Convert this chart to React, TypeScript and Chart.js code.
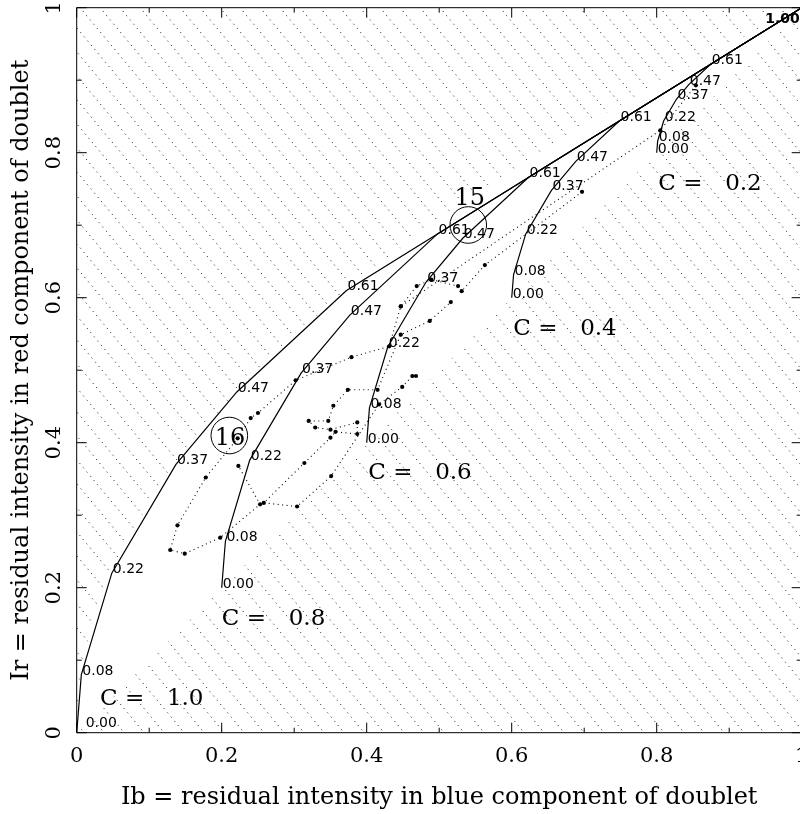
import React, { useEffect, useRef } from 'react';
import { Chart, registerables } from 'chart.js';

Chart.register(...registerables);

// ---- tau labels (residual intensity e^-tau) along each model curve ----
const R_LABELS = ['0.00', '0.08', '0.22', '0.37', '0.47', '0.61', '1.00'];

// ---- model curves for covering factor C (Ib, Ir) ----
const COVERINGS = ['0.2', '0.4', '0.6', '0.8', '1.0'];
const C02_IB = [0.8, 0.8013, 0.8097, 0.8274, 0.8442, 0.8744, 1.0];
const C02_IR = [0.8, 0.816, 0.844, 0.874, 0.894, 0.922, 1.0];
const C04_IB = [0.6, 0.6026, 0.6194, 0.6548, 0.6884, 0.7488, 1.0];
const C04_IR = [0.6, 0.632, 0.688, 0.748, 0.788, 0.844, 1.0];
const C06_IB = [0.4, 0.4038, 0.429, 0.4821, 0.5325, 0.6233, 1.0];
const C06_IR = [0.4, 0.448, 0.532, 0.622, 0.682, 0.766, 1.0];
const C08_IB = [0.2, 0.2051, 0.2387, 0.3095, 0.3767, 0.4977, 1.0];
const C08_IR = [0.2, 0.264, 0.376, 0.496, 0.576, 0.688, 1.0];
const C10_IB = [0, 0.0064, 0.0484, 0.1369, 0.2209, 0.3721, 1.0];
const C10_IR = [0, 0.08, 0.22, 0.37, 0.47, 0.61, 1.0];

// anchor (Ib, Ir) of the "C = x" annotations
const CLABEL_IB = [0.802, 0.602, 0.402, 0.2, 0.032];
const CLABEL_IR = [0.749, 0.549, 0.35, 0.149, 0.038];

// ---- observed points ----
const OBS_A_IB = [0.854, 0.805, 0.447, 0.431, 0.379, 0.302, 0.25, 0.24, 0.222, 0.178, 0.139, 0.129, 0.149, 0.198, 0.253, 0.223];
const OBS_A_IR = [0.893, 0.831, 0.588, 0.533, 0.518, 0.486, 0.441, 0.434, 0.406, 0.352, 0.286, 0.252, 0.247, 0.269, 0.315, 0.368];
const OBS_B_IB = [0.468, 0.463, 0.449, 0.417, 0.351, 0.304, 0.258, 0.314, 0.35, 0.357, 0.387, 0.387, 0.35, 0.329, 0.32, 0.347, 0.354, 0.374, 0.415, 0.447, 0.487, 0.516];
const OBS_B_IR = [0.492, 0.492, 0.477, 0.453, 0.354, 0.312, 0.317, 0.372, 0.407, 0.415, 0.412, 0.428, 0.418, 0.421, 0.43, 0.43, 0.451, 0.473, 0.473, 0.549, 0.568, 0.594];
const OBS_C_IB = [0.697, 0.563, 0.531, 0.526, 0.489, 0.469, 0.447];
const OBS_C_IR = [0.746, 0.645, 0.609, 0.616, 0.625, 0.616, 0.588];

// ---- circled components ----
const COMP_NAMES = ['15', '16'];
const COMP_IB = [0.5401, 0.2105];
const COMP_IR = [0.7003, 0.4099];

const X_TITLE = 'Ib = residual intensity in blue component of doublet';
const Y_TITLE = 'Ir = residual intensity in red component of doublet';

const zip = (xs: number[], ys: number[]) => xs.map((v, i) => ({ x: v, y: ys[i] }));

const fmtTick = (value: any) => {
  const t = Math.round(Number(value) * 10);
  return t % 2 === 0 ? String(t / 10) : '';
};

const SERIF = '"DejaVu Serif"';

const hatchPlugin = {
  id: 'hatch',
  beforeDatasetsDraw(chart: any) {
    const { ctx, chartArea: a, scales } = chart;
    const xs = scales.x;
    const ys = scales.y;
    ctx.save();
    ctx.beginPath();
    ctx.rect(a.left, a.top, a.right - a.left, a.bottom - a.top);
    ctx.clip();
    ctx.beginPath();
    // forbidden region Ir > sqrt(Ib)
    ctx.moveTo(xs.getPixelForValue(0), ys.getPixelForValue(1));
    for (let i = 0; i <= 300; i++) {
      const v = i / 300;
      ctx.lineTo(xs.getPixelForValue(v), ys.getPixelForValue(Math.sqrt(v)));
    }
    ctx.closePath();
    // forbidden region Ir < Ib
    ctx.moveTo(xs.getPixelForValue(0), ys.getPixelForValue(0));
    ctx.lineTo(xs.getPixelForValue(1), ys.getPixelForValue(1));
    ctx.lineTo(xs.getPixelForValue(1), ys.getPixelForValue(0));
    ctx.closePath();
    ctx.clip();
    ctx.strokeStyle = '#111';
    ctx.lineWidth = 1;
    ctx.setLineDash([1, 4.5]);
    const slope = 1.2;
    const step = 20;
    const H = a.bottom - a.top + 20;
    ctx.beginPath();
    for (let x0 = a.left - H / slope - step; x0 < a.right + step; x0 += step) {
      ctx.moveTo(x0, a.top - 5);
      ctx.lineTo(x0 + H / slope, a.top - 5 + H);
    }
    ctx.stroke();
    ctx.restore();
  },
};

const overlayPlugin = {
  id: 'overlay',
  afterDatasetsDraw(chart: any) {
    const { ctx, chartArea: a, scales } = chart;
    const xs = scales.x;
    const ys = scales.y;
    ctx.save();
    ctx.fillStyle = '#000';
    ctx.strokeStyle = '#000';

    // tau labels on the curves
    ctx.font = '14px "DejaVu Sans"';
    ctx.textAlign = 'left';
    ctx.textBaseline = 'alphabetic';
    for (let d = 0; d < COVERINGS.length; d++) {
      const meta = chart.getDatasetMeta(d);
      for (let j = 0; j < R_LABELS.length - 1; j++) {
        const el = meta.data[j];
        let lx = el.x + 1;
        let ly = el.y;
        if (Math.abs(el.x - a.left) < 1 && Math.abs(el.y - a.bottom) < 1) {
          lx += 8;
          ly -= 6;
        }
        ctx.fillText(R_LABELS[j], lx, ly);
      }
    }
    {
      const el = chart.getDatasetMeta(0).data[R_LABELS.length - 1];
      ctx.font = 'bold 14px "DejaVu Sans"';
      ctx.textAlign = 'right';
      ctx.fillText(R_LABELS[R_LABELS.length - 1], el.x - 2, el.y + 15);
    }

    // C = x annotations
    ctx.font = `23px ${SERIF}`;
    ctx.textAlign = 'left';
    for (let i = 0; i < COVERINGS.length; i++) {
      const px = xs.getPixelForValue(CLABEL_IB[i]);
      const py = ys.getPixelForValue(CLABEL_IR[i]);
      ctx.fillText('C', px, py);
      ctx.fillText('=', px + 25, py);
      ctx.fillText(COVERINGS[i], px + 67, py);
    }

    // circled components
    ctx.lineWidth = 1;
    ctx.setLineDash([]);
    const R = 18.3;
    ctx.font = `24px ${SERIF}`;
    ctx.textAlign = 'center';
    for (let i = 0; i < COMP_NAMES.length; i++) {
      const cx = xs.getPixelForValue(COMP_IB[i]);
      const cy = ys.getPixelForValue(COMP_IR[i]);
      ctx.beginPath();
      ctx.arc(cx, cy, R, 0, Math.PI * 2);
      ctx.stroke();
      if (i === 0) ctx.fillText(COMP_NAMES[i], cx + 1.5, cy - R - 1.7);
      else ctx.fillText(COMP_NAMES[i], cx + 0.7, cy + 9);
    }

    // frame and inward ticks
    ctx.beginPath();
    for (const t of xs.ticks) {
      const p = xs.getPixelForValue(t.value);
      const L = Math.round(t.value * 10) % 2 === 0 ? 10 : 5;
      ctx.moveTo(p, a.bottom);
      ctx.lineTo(p, a.bottom - L);
      ctx.moveTo(p, a.top);
      ctx.lineTo(p, a.top + L);
    }
    for (const t of ys.ticks) {
      const p = ys.getPixelForValue(t.value);
      const L = Math.round(t.value * 10) % 2 === 0 ? 10 : 5;
      ctx.moveTo(a.left, p);
      ctx.lineTo(a.left + L, p);
      ctx.moveTo(a.right, p);
      ctx.lineTo(a.right - L, p);
    }
    ctx.rect(a.left, a.top, a.right - a.left, a.bottom - a.top);
    ctx.stroke();
    ctx.restore();
  },
};

export default function App() {
  const ref = useRef<HTMLCanvasElement | null>(null);

  useEffect(() => {
    if (!ref.current) return;
    const curve = (xs: number[], ys: number[], label: string) => ({
      label,
      data: zip(xs, ys),
      showLine: true,
      borderColor: '#000',
      borderWidth: 1.2,
      pointRadius: 0,
      pointHoverRadius: 0,
      tension: 0,
    });
    const obs = (xs: number[], ys: number[], label: string) => ({
      label,
      data: zip(xs, ys),
      showLine: true,
      borderColor: '#000',
      borderWidth: 1.1,
      borderDash: [1, 3.5],
      pointRadius: 2.1,
      pointHoverRadius: 2.1,
      pointBackgroundColor: '#000',
      pointBorderWidth: 0,
      tension: 0,
    });
    const chart = new Chart(ref.current, {
      type: 'scatter',
      data: {
        datasets: [
          curve(C02_IB, C02_IR, 'C = 0.2'),
          curve(C04_IB, C04_IR, 'C = 0.4'),
          curve(C06_IB, C06_IR, 'C = 0.6'),
          curve(C08_IB, C08_IR, 'C = 0.8'),
          curve(C10_IB, C10_IR, 'C = 1.0'),
          obs(OBS_A_IB, OBS_A_IR, 'obs A'),
          obs(OBS_B_IB, OBS_B_IR, 'obs B'),
          obs(OBS_C_IB, OBS_C_IR, 'obs C'),
        ] as any,
      },
      options: {
        responsive: false,
        devicePixelRatio: 1,
        animation: false,
        layout: { padding: { left: 0, right: 8.3, top: 7.7, bottom: 0 } },
        plugins: { legend: { display: false }, tooltip: { enabled: false } },
        scales: {
          x: {
            type: 'linear',
            position: 'bottom',
            min: 0,
            max: 1,
            afterFit: (s: any) => {
              s.height = 81.3;
              s.paddingLeft = 0;
              s.paddingRight = 0;
            },
            grid: { display: false, drawTicks: false },
            border: { display: false },
            ticks: {
              stepSize: 0.1,
              autoSkip: false,
              minRotation: 0,
              maxRotation: 0,
              padding: 11,
              color: '#000',
              font: { family: 'DejaVu Serif', size: 21 },
              callback: fmtTick,
            },
            title: {
              display: true,
              text: X_TITLE,
              color: '#000',
              font: { family: 'DejaVu Serif', size: 24 },
              padding: { top: 0, bottom: 1.6 },
            },
          },
          y: {
            type: 'linear',
            position: 'left',
            min: 0,
            max: 1,
            afterFit: (s: any) => {
              s.width = 76.7;
              s.paddingTop = 0;
              s.paddingBottom = 0;
            },
            grid: { display: false, drawTicks: false },
            border: { display: false },
            ticks: {
              stepSize: 0.1,
              autoSkip: false,
              minRotation: 90,
              maxRotation: 90,
              crossAlign: 'center',
              padding: 5.3,
              color: '#000',
              font: { family: 'DejaVu Serif', size: 21 },
              callback: fmtTick,
            },
            title: {
              display: true,
              text: Y_TITLE,
              color: '#000',
              font: { family: 'DejaVu Serif', size: 24 },
              padding: { top: 7.6, bottom: 0 },
            },
          },
        },
      } as any,
      plugins: [hatchPlugin, overlayPlugin],
    });
    return () => chart.destroy();
  }, []);

  return (
    <div
      style={{
        position: 'fixed',
        left: 0,
        top: 0,
        width: 800,
        height: 814,
        overflow: 'hidden',
        background: '#fff',
      }}
    >
      <canvas ref={ref} width={810} height={814} style={{ display: 'block', width: 810, height: 814 }} />
    </div>
  );
}
